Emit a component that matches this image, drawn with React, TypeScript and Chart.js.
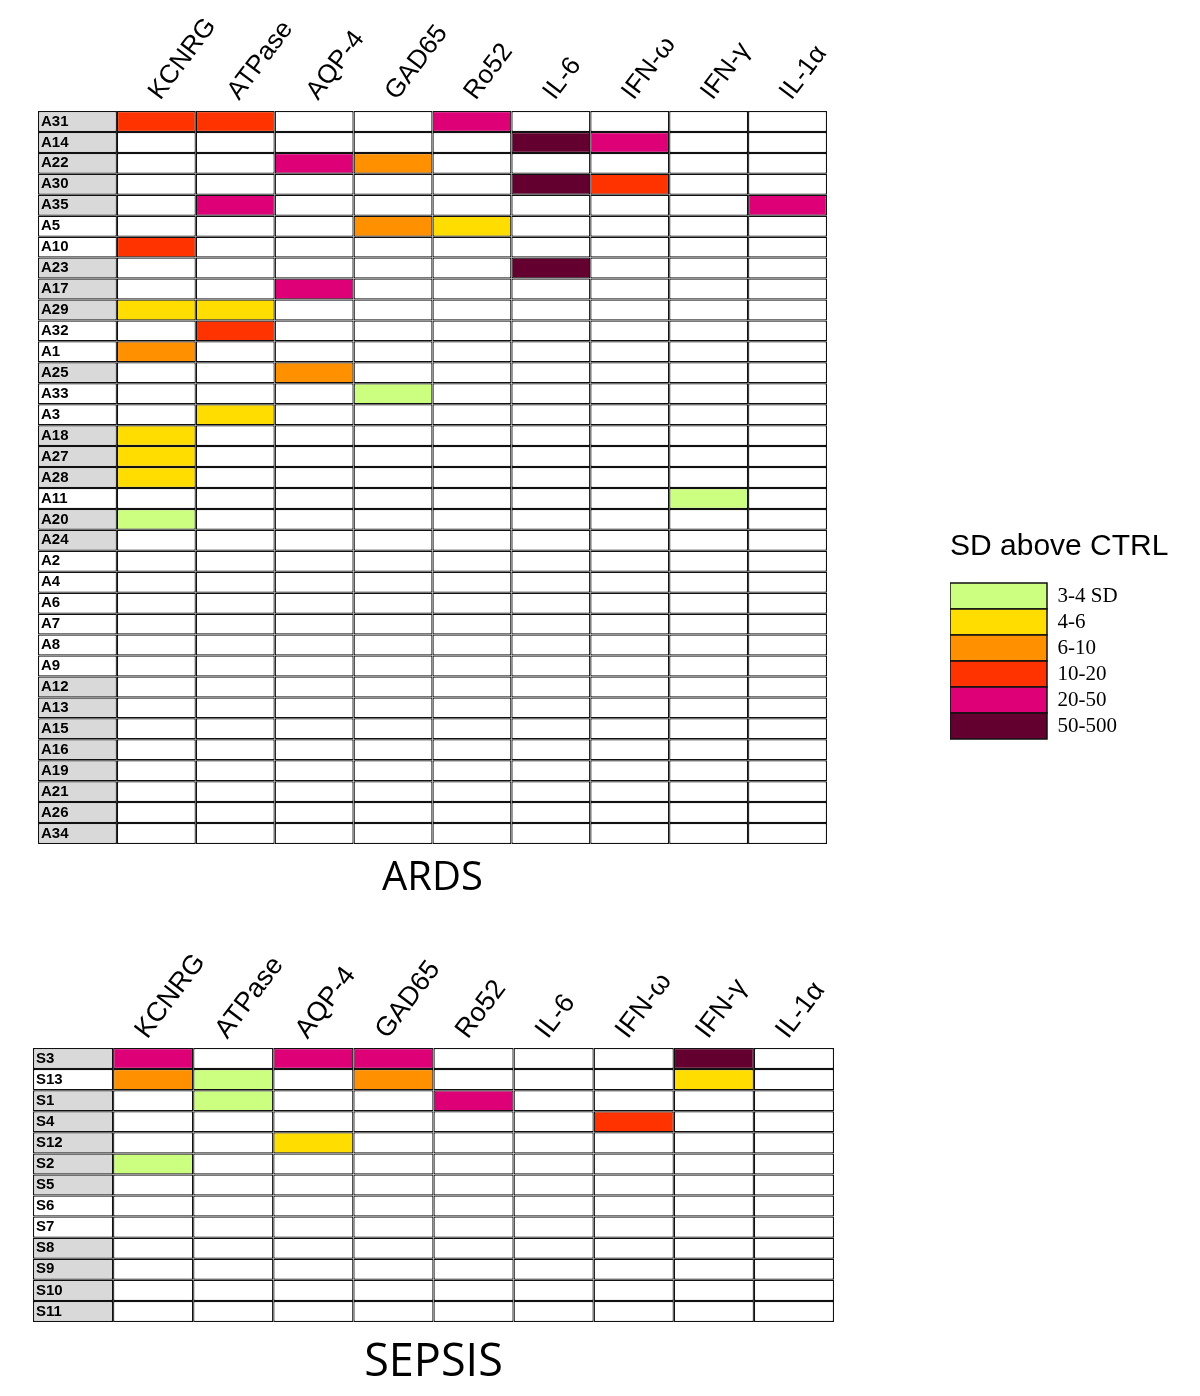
import React, { useEffect, useRef } from 'react';
import { Chart, registerables } from 'chart.js';

Chart.register(...registerables);

// ---------- data ----------
const markers = ['KCNRG', 'ATPase', 'AQP-4', 'GAD65', 'Ro52', 'IL-6', 'IFN-ω', 'IFN-γ', 'IL-1α'];

const levelLabels = ['3-4 SD', '4-6', '6-10', '10-20', '20-50', '50-500'];
const levelColors = ['#CCFF80', '#FFDD00', '#FF9000', '#FF3300', '#DD0077', '#640030'];

const ardsPatients = [
  'A31', 'A14', 'A22', 'A30', 'A35', 'A5', 'A10', 'A23', 'A17', 'A29', 'A32', 'A1', 'A25', 'A33', 'A3',
  'A18', 'A27', 'A28', 'A11', 'A20', 'A24', 'A2', 'A4', 'A6', 'A7', 'A8', 'A9', 'A12', 'A13', 'A15',
  'A16', 'A19', 'A21', 'A26', 'A34',
];
const ardsShaded = [
  1, 1, 1, 1, 1, 0, 0, 1, 1, 1, 0, 0, 1, 0, 0,
  1, 1, 1, 0, 1, 1, 0, 0, 0, 0, 0, 0, 1, 1, 1,
  1, 1, 1, 1, 1,
];
// level per patient (row) and marker (column): 0 = below 3 SD, 1..6 = legend classes
const ardsLevels = [
  [4, 4, 0, 0, 5, 0, 0, 0, 0], // A31
  [0, 0, 0, 0, 0, 6, 5, 0, 0], // A14
  [0, 0, 5, 3, 0, 0, 0, 0, 0], // A22
  [0, 0, 0, 0, 0, 6, 4, 0, 0], // A30
  [0, 5, 0, 0, 0, 0, 0, 0, 5], // A35
  [0, 0, 0, 3, 2, 0, 0, 0, 0], // A5
  [4, 0, 0, 0, 0, 0, 0, 0, 0], // A10
  [0, 0, 0, 0, 0, 6, 0, 0, 0], // A23
  [0, 0, 5, 0, 0, 0, 0, 0, 0], // A17
  [2, 2, 0, 0, 0, 0, 0, 0, 0], // A29
  [0, 4, 0, 0, 0, 0, 0, 0, 0], // A32
  [3, 0, 0, 0, 0, 0, 0, 0, 0], // A1
  [0, 0, 3, 0, 0, 0, 0, 0, 0], // A25
  [0, 0, 0, 1, 0, 0, 0, 0, 0], // A33
  [0, 2, 0, 0, 0, 0, 0, 0, 0], // A3
  [2, 0, 0, 0, 0, 0, 0, 0, 0], // A18
  [2, 0, 0, 0, 0, 0, 0, 0, 0], // A27
  [2, 0, 0, 0, 0, 0, 0, 0, 0], // A28
  [0, 0, 0, 0, 0, 0, 0, 1, 0], // A11
  [1, 0, 0, 0, 0, 0, 0, 0, 0], // A20
  [0, 0, 0, 0, 0, 0, 0, 0, 0], // A24
  [0, 0, 0, 0, 0, 0, 0, 0, 0], // A2
  [0, 0, 0, 0, 0, 0, 0, 0, 0], // A4
  [0, 0, 0, 0, 0, 0, 0, 0, 0], // A6
  [0, 0, 0, 0, 0, 0, 0, 0, 0], // A7
  [0, 0, 0, 0, 0, 0, 0, 0, 0], // A8
  [0, 0, 0, 0, 0, 0, 0, 0, 0], // A9
  [0, 0, 0, 0, 0, 0, 0, 0, 0], // A12
  [0, 0, 0, 0, 0, 0, 0, 0, 0], // A13
  [0, 0, 0, 0, 0, 0, 0, 0, 0], // A15
  [0, 0, 0, 0, 0, 0, 0, 0, 0], // A16
  [0, 0, 0, 0, 0, 0, 0, 0, 0], // A19
  [0, 0, 0, 0, 0, 0, 0, 0, 0], // A21
  [0, 0, 0, 0, 0, 0, 0, 0, 0], // A26
  [0, 0, 0, 0, 0, 0, 0, 0, 0], // A34
];

const sepsisPatients = ['S3', 'S13', 'S1', 'S4', 'S12', 'S2', 'S5', 'S6', 'S7', 'S8', 'S9', 'S10', 'S11'];
const sepsisShaded = [1, 0, 1, 1, 1, 1, 1, 0, 0, 1, 1, 1, 1];
const sepsisLevels = [
  [5, 0, 5, 5, 0, 0, 0, 6, 0], // S3
  [3, 1, 0, 3, 0, 0, 0, 2, 0], // S13
  [0, 1, 0, 0, 5, 0, 0, 0, 0], // S1
  [0, 0, 0, 0, 0, 0, 4, 0, 0], // S4
  [0, 0, 2, 0, 0, 0, 0, 0, 0], // S12
  [1, 0, 0, 0, 0, 0, 0, 0, 0], // S2
  [0, 0, 0, 0, 0, 0, 0, 0, 0], // S5
  [0, 0, 0, 0, 0, 0, 0, 0, 0], // S6
  [0, 0, 0, 0, 0, 0, 0, 0, 0], // S7
  [0, 0, 0, 0, 0, 0, 0, 0, 0], // S8
  [0, 0, 0, 0, 0, 0, 0, 0, 0], // S9
  [0, 0, 0, 0, 0, 0, 0, 0, 0], // S10
  [0, 0, 0, 0, 0, 0, 0, 0, 0], // S11
];

// ---------- styling ----------
const SANS = "'Liberation Sans', Arial, sans-serif";
const SERIF = "'Liberation Serif', 'Times New Roman', serif";
const GRID = '#111111';
const LABEL_GREY = '#D9D9D9';

type TableProps = {
  rows: string[];
  shaded: number[];
  levels: number[][];
  title: string;
  left: number;
  top: number;
  width: number;
  height: number;
  padLeft: number;
  padRight: number;
  headerH: number;
  footerH: number;
  headFont: number;
  headPad: number;
  headShift: number;
  titleFont: number;
  titlePadBottom: number;
};

function HeatTable(p: TableProps) {
  const ref = useRef<HTMLCanvasElement>(null);
  useEffect(() => {
    if (!ref.current) return;
    const ncol = markers.length + 1;
    const common = {
      barPercentage: 1,
      categoryPercentage: 1,
      grouped: false,
      borderSkipped: false,
      borderWidth: 1.25,
      borderColor: GRID,
      inflateAmount: 0,
    };
    const datasets: any[] = [
      {
        ...common,
        label: 'patient',
        data: p.rows.map(() => [0, 1]),
        backgroundColor: p.shaded.map((s) => (s ? LABEL_GREY : '#FFFFFF')),
      },
    ];
    markers.forEach((m, j) => {
      datasets.push({
        ...common,
        label: m,
        data: p.rows.map(() => [j + 1, j + 2]),
        backgroundColor: p.levels.map((r) => (r[j] ? levelColors[r[j] - 1] : '#FFFFFF')),
      });
    });

    const chart = new Chart(ref.current, {
      type: 'bar',
      data: { labels: p.rows, datasets },
      options: {
        responsive: false,
        animation: false,
        events: [],
        indexAxis: 'y',
        layout: { padding: { left: p.padLeft, right: p.padRight, top: 0, bottom: 0 } },
        plugins: { legend: { display: false }, tooltip: { enabled: false } },
        scales: {
          x: {
            type: 'linear',
            position: 'bottom',
            min: 0,
            max: ncol,
            grid: { display: false, drawTicks: false },
            border: { display: false },
            ticks: { display: false },
            title: {
              display: true,
              text: p.title,
              color: '#000',
              font: { family: "'Open Sans', sans-serif", size: p.titleFont },
              padding: { top: 0, bottom: p.titlePadBottom },
            },
            afterFit: (s: any) => {
              s.height = p.footerH;
            },
          },
          x2: {
            type: 'category',
            position: 'top',
            labels: ['', ...markers],
            offset: true,
            grid: { display: false, drawTicks: false },
            border: { display: false },
            ticks: {
              autoSkip: false,
              minRotation: 53,
              maxRotation: 53,
              padding: p.headPad,
              labelOffset: p.headShift,
              color: '#000',
              font: { family: SANS, size: p.headFont },
            },
            afterFit: (s: any) => {
              s.height = p.headerH;
              s.paddingLeft = 0;
              s.paddingRight = 0;
            },
          },
          y: {
            type: 'category',
            position: 'left',
            grid: { display: false, drawTicks: false },
            border: { display: false },
            ticks: {
              z: 1,
              mirror: true,
              padding: 3,
              autoSkip: false,
              color: '#000',
              font: { family: SANS, size: 15, weight: 'bold' },
            },
            afterFit: (s: any) => {
              s.width = 0;
              s.paddingTop = 0;
              s.paddingBottom = 0;
            },
          },
        } as any,
      },
    });
    return () => chart.destroy();
  }, []);
  return (
    <canvas
      ref={ref}
      width={p.width}
      height={p.height}
      style={{ position: 'absolute', left: p.left, top: p.top, width: p.width, height: p.height }}
    />
  );
}

function LevelLegend() {
  const ref = useRef<HTMLCanvasElement>(null);
  useEffect(() => {
    if (!ref.current) return;
    const chart = new Chart(ref.current, {
      type: 'bar',
      data: {
        labels: [],
        datasets: levelLabels.map((l, i) => ({
          label: l,
          data: [],
          backgroundColor: levelColors[i],
          borderColor: GRID,
          borderWidth: 1.5,
        })),
      },
      options: {
        responsive: false,
        animation: false,
        events: [],
        layout: { padding: { left: 20, top: 10, right: 0, bottom: 0 } },
        scales: { x: { display: false }, y: { display: false } },
        plugins: {
          tooltip: { enabled: false },
          legend: {
            position: 'chartArea',
            align: 'start',
            title: {
              display: true,
              text: 'SD above CTRL',
              color: '#000',
              position: 'start',
              font: { family: SANS, size: 30 },
              padding: { top: 12, bottom: 15 },
            } as any,
            labels: {
              boxWidth: 97,
              boxHeight: 26,
              padding: 0,
              color: '#000',
              font: { family: SERIF, size: 21 },
              generateLabels: () =>
                levelLabels.map((t, i) => ({
                  text: t,
                  fillStyle: levelColors[i],
                  strokeStyle: GRID,
                  lineWidth: 1.5,
                  hidden: false,
                  datasetIndex: i,
                })),
            },
          },
        },
      } as any,
    });
    return () => chart.destroy();
  }, []);
  return (
    <canvas
      ref={ref}
      width={270}
      height={250}
      style={{ position: 'absolute', left: 930, top: 520, width: 270, height: 250 }}
    />
  );
}

export default function App() {
  return (
    <div style={{ position: 'absolute', left: 0, top: 0, width: 1200, height: 1396, background: '#fff' }}>
      <HeatTable
        rows={ardsPatients}
        shaded={ardsShaded}
        levels={ardsLevels}
        title="ARDS"
        left={0}
        top={0}
        width={900}
        height={903}
        padLeft={38}
        padRight={73}
        headerH={111}
        footerH={59}
        headFont={26}
        headPad={5}
        headShift={23}
        titleFont={40}
        titlePadBottom={0}
      />
      <HeatTable
        rows={sepsisPatients}
        shaded={sepsisShaded}
        levels={sepsisLevels}
        title="SEPSIS"
        left={0}
        top={930}
        width={900}
        height={466}
        padLeft={33}
        padRight={66}
        headerH={118}
        footerH={74}
        headFont={27}
        headPad={3}
        headShift={14}
        titleFont={45}
        titlePadBottom={6}
      />
      <LevelLegend />
    </div>
  );
}
